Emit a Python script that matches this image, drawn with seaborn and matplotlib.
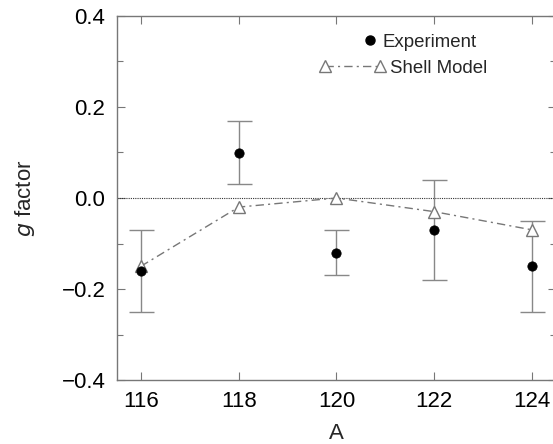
import numpy as np
import pandas as pd
import matplotlib
matplotlib.use("Agg")
import matplotlib.pyplot as plt
import seaborn as sns
from matplotlib.legend_handler import HandlerLine2D
from matplotlib.lines import Line2D
from matplotlib.ticker import MultipleLocator, FuncFormatter

# ---- data ----
mass_numbers = [116, 118, 120, 122, 124]
exp_g = [-0.16, 0.10, -0.12, -0.07, -0.15]
exp_err = [0.09, 0.07, 0.05, 0.11, 0.10]
shell_g = [-0.15, -0.02, 0.00, -0.03, -0.07]

sns.set_style("ticks")
plt.rcParams['font.family'] = ['Liberation Sans', 'DejaVu Sans']

fig = plt.figure(figsize=(5.53, 4.44), dpi=100)
ax = fig.add_axes([116.5 / 553, 1 - 380 / 444, (556.4 - 116.5) / 553, (380 - 16) / 444])

df_exp = pd.DataFrame({"A": mass_numbers, "g": exp_g, "err": exp_err})
df_sm = pd.DataFrame({"A": mass_numbers, "g": shell_g})

grey = "#777777"
ax.axhline(0.0, color="#333333", lw=0.8, ls=(0, (1, 1)), zorder=1)

ax.errorbar(df_exp["A"], df_exp["g"], yerr=df_exp["err"], fmt="none",
            ecolor="#888888", elinewidth=1.0, capsize=9, capthick=1.0, zorder=2)

dash = (0, (6, 3, 1.5, 3))
sns.lineplot(data=df_sm, x="A", y="g", ax=ax, color=grey, lw=1.0,
             linestyle=dash, marker="^", markersize=9,
             markerfacecolor="white", markeredgecolor=grey, markeredgewidth=1.0,
             zorder=3)
sns.scatterplot(data=df_exp, x="A", y="g", ax=ax, color="black", s=45,
                edgecolor="black", zorder=4)

ax.set_xlim(115.5, 124.5)
ax.set_ylim(-0.4, 0.4)
ax.set_xticks(mass_numbers)
ax.yaxis.set_major_locator(MultipleLocator(0.2))
ax.yaxis.set_minor_locator(MultipleLocator(0.1))
ax.yaxis.set_major_formatter(FuncFormatter(
    lambda v, p: ("\u2212%.1f" % abs(v)) if v < -1e-9 else "%.1f" % abs(v)))

ax.tick_params(which="both", direction="in", top=True, right=True,
               colors=grey, labelcolor="black", labelsize=16, width=0.8)
ax.tick_params(which="major", length=6, pad=8)
ax.tick_params(which="minor", length=4)
for s in ax.spines.values():
    s.set_color(grey)
    s.set_linewidth(1.0)

ax.set_xlabel("A", fontsize=16, labelpad=8)
ax.set_ylabel(r"$\mathit{g}$ factor", fontsize=16, labelpad=18)


h_exp = Line2D([], [], ls="none", marker="o", color="black", markersize=6.5)
h_sm = Line2D([], [], color=grey, lw=1.0, ls=dash, marker="^",
              markersize=9, markerfacecolor="white", markeredgecolor=grey)

leg1 = ax.legend([h_exp], ["Experiment"],
                 handler_map={h_exp: HandlerLine2D(numpoints=1)},
                 loc="center left", bbox_to_anchor=((362 - 116.5) / 440, 1 - (42 - 16) / 364),
                 frameon=False, fontsize=13.4, handlelength=0.86, handletextpad=0.22,
                 borderaxespad=0, borderpad=0)
ax.add_artist(leg1)
ax.legend([h_sm], ["Shell Model"],
          handler_map={h_sm: HandlerLine2D(numpoints=2)},
          loc="center left", bbox_to_anchor=((319.4 - 116.5) / 440, 1 - (68 - 16) / 364),
          frameon=False, fontsize=13.4, handlelength=3.55, handletextpad=0.24,
          borderaxespad=0, borderpad=0)

fig.savefig("out.png", dpi=100)
